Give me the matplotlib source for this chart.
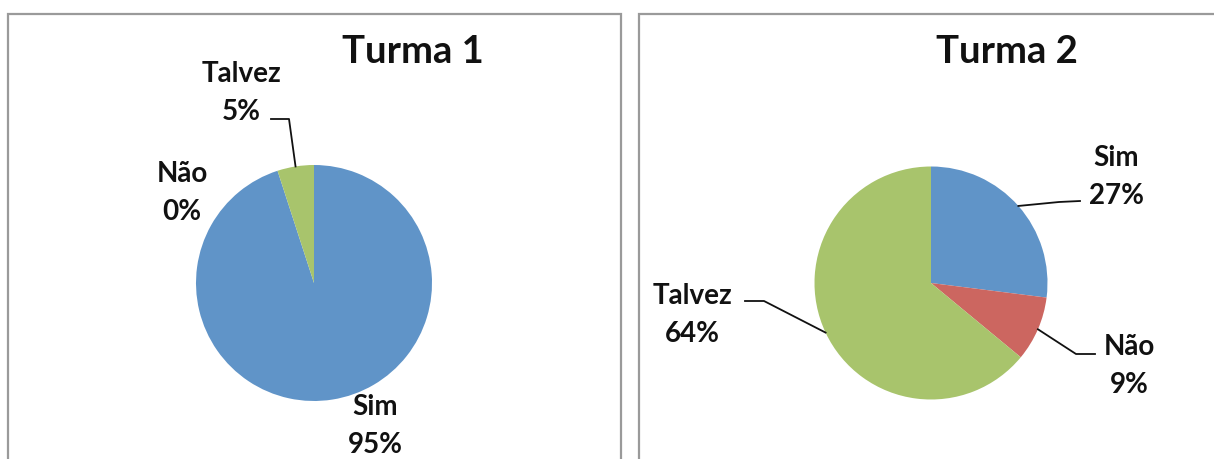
import numpy as np
import matplotlib.pyplot as plt
from matplotlib.patches import Rectangle

plt.rcParams['font.family'] = ['Lato', 'DejaVu Sans']

categories = ['Sim', 'Não', 'Talvez']
turma1 = [95, 0, 5]
turma2 = [27, 9, 64]
titles = ['Turma 1', 'Turma 2']
colors = ['#6094C8', '#CC6660', '#A8C46C']

W, H = 1214, 460
fig = plt.figure(figsize=(W / 100, H / 100), dpi=100)
ax = fig.add_axes([0, 0, 1, 1])


def Y(y):
    # work in image pixels, measured from the top
    return H - y


# panel frames
for x0, x1 in [(8, 621), (639, W + 20)]:
    ax.add_patch(Rectangle((x0, Y(H + 20)), x1 - x0, H + 20 - 15,
                           fill=False, edgecolor='#9a9a9a', lw=1.6, zorder=1))

pies = [
    dict(values=turma1, center=(314, 284), r=118, title=titles[0], title_xy=(413, 52),
         labels={'Sim': ((375, 426), None),
                 'Não': ((182, 193), None),
                 'Talvez': ((241, 93), [(271, 120), (289, 120)])}),
    dict(values=turma2, center=(931, 284), r=116.5, title=titles[1], title_xy=(1007, 52),
         labels={'Sim': ((1116, 177), [(1080, 202), (1059, 203)]),
                 'Não': ((1129, 366), [(1095, 355), (1076, 355)]),
                 'Talvez': ((692, 315), [(745, 302), (764, 302)])}),
]

for p in pies:
    cx, cy = p['center']
    ax.pie(p['values'], colors=colors, startangle=90, counterclock=False,
           center=(cx, Y(cy)), radius=p['r'], frame=True,
           wedgeprops=dict(linewidth=0))
    ax.text(p['title_xy'][0], Y(p['title_xy'][1]), p['title'], ha='center', va='center',
            fontsize=27.5, fontweight='bold', color='#111111')

    total = sum(p['values'])
    start = 90.0
    for cat, v in zip(categories, p['values']):
        mid = start - v / total * 360 / 2
        start -= v / total * 360
        (lx, ly), leader = p['labels'][cat]
        ax.text(lx, Y(ly), f'{cat}\n{v}%', ha='center', va='center',
                fontsize=20, fontweight='bold', color='#111111', linespacing=1.55)
        if leader:
            ex = cx + p['r'] * np.cos(np.radians(mid))
            ey = cy - p['r'] * np.sin(np.radians(mid))
            pts = leader + [(ex, ey)]
            ax.plot([q[0] for q in pts], [Y(q[1]) for q in pts], color='#111111', lw=1.3)

ax.set_xlim(0, W)
ax.set_ylim(0, H)
ax.set_aspect('equal')
ax.axis('off')

fig.savefig('out.png', dpi=100, facecolor='white')
